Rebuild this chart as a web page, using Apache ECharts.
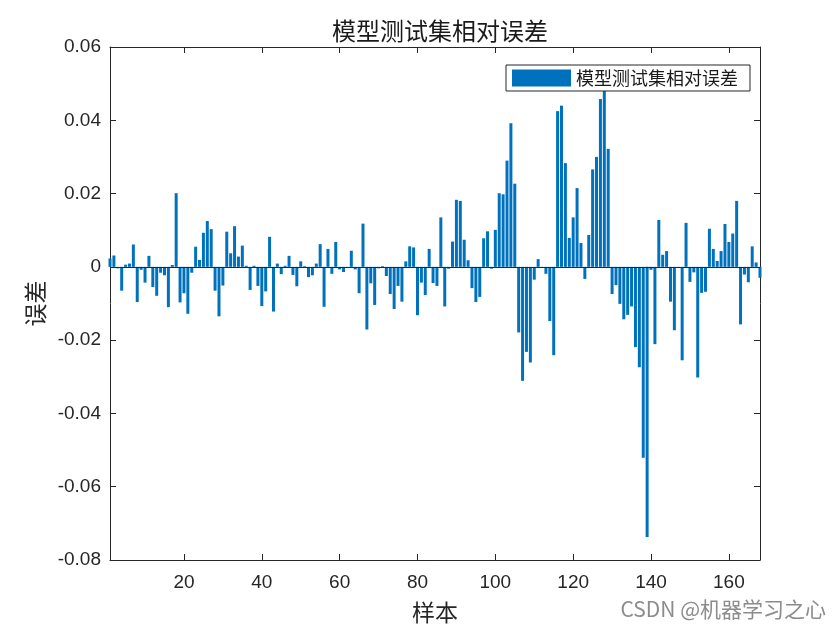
<!DOCTYPE html>
<html>
<head>
<meta charset="utf-8">
<script src="https://cdn.jsdelivr.net/npm/echarts@6/dist/echarts.min.js"></script>
<style>html,body{margin:0;padding:0;background:#fff;}#c{width:840px;height:630px;}</style>
</head>
<body>
<div id="c"></div>
<script>
// ---- data ----
const titleText = '模型测试集相对误差';
const seriesName = '模型测试集相对误差';
const xName = '样本';
const yName = '误差';
const errors = [
  0.0023, 0.0031, -0.0004, -0.0065, 0.0006, 0.0009, 0.0061, -0.0096, -0.0008, -0.0043,
  0.0030, -0.0055, -0.0079, -0.0016, -0.0023, -0.0110, 0.0005, 0.0201, -0.0097, -0.0072,
  -0.0128, -0.0016, 0.0055, 0.0019, 0.0093, 0.0125, 0.0103, -0.0065, -0.0135, -0.0051,
  0.0096, 0.0037, 0.0111, 0.0028, 0.0058, 0.0003, -0.0063, 0.0003, -0.0052, -0.0107,
  -0.0067, 0.0082, -0.0122, 0.0009, -0.0020, 0.0003, 0.0030, -0.0022, -0.0053, 0.0015,
  0.0002, -0.0028, -0.0023, 0.0009, 0.0062, -0.0109, 0.0049, -0.0019, 0.0068, -0.0007,
  -0.0014, -0.0002, 0.0044, -0.0007, -0.0072, 0.0118, -0.0171, -0.0045, -0.0104, -0.0004,
  0.0002, -0.0025, -0.0074, -0.0115, -0.0052, -0.0095, 0.0015, 0.0056, 0.0053, -0.0132,
  -0.0043, -0.0077, 0.0049, -0.0044, -0.0052, 0.0135, -0.0108, -0.0005, 0.0069, 0.0183,
  0.0180, 0.0074, 0.0018, -0.0058, -0.0096, -0.0082, 0.0078, 0.0097, -0.0005, 0.0101,
  0.0201, 0.0198, 0.0290, 0.0392, 0.0227, -0.0179, -0.0311, -0.0232, -0.0261, -0.0035,
  0.0021, -0.0003, -0.0019, -0.0148, -0.0241, 0.0425, 0.0440, 0.0283, 0.0079, 0.0135,
  0.0215, 0.0065, -0.0033, 0.0087, 0.0266, 0.0300, 0.0458, 0.0480, 0.0322, -0.0074,
  -0.0050, -0.0101, -0.0143, -0.0131, -0.0108, -0.0219, -0.0274, -0.0521, -0.0737, -0.0008,
  -0.0211, 0.0128, 0.0033, 0.0043, -0.0095, -0.0173, -0.0002, -0.0255, 0.0120, -0.0041,
  -0.0015, -0.0302, -0.0071, -0.0068, 0.0104, 0.0049, 0.0016, 0.0043, 0.0117, 0.0068,
  0.0091, 0.0180, -0.0157, -0.0021, -0.0042, 0.0056, 0.0012, -0.0030
];
const sampleIndex = errors.map((_, i) => i + 1);
const xTicks = [20, 40, 60, 80, 100, 120, 140, 160];
const yTicks = [-0.08, -0.06, -0.04, -0.02, 0, 0.02, 0.04, 0.06];
const watermark = 'CSDN @机器学习之心';

// ---- chart ----
const chart = echarts.init(document.getElementById('c'), null, {renderer: 'canvas'});
const axisColor = '#262626';
const numFont = '"Liberation Sans", Arial, sans-serif';
const cjkFont = '"Noto Sans CJK SC", sans-serif';
const barData = sampleIndex.map((x, i) => [x, errors[i]]);

const option = {
  backgroundColor: '#ffffff',
  animation: false,
  title: {
    text: titleText,
    left: 327,
    top: 14,
    textStyle: {fontFamily: cjkFont, fontSize: 24, fontWeight: 'normal', color: '#1a1a1a'}
  },
  legend: {
    data: [seriesName],
    left: 506,
    top: 65,
    orient: 'horizontal',
    icon: 'rect',
    itemWidth: 59,
    itemHeight: 17,
    padding: [4, 12, 4, 6],
    backgroundColor: '#ffffff',
    borderColor: '#262626',
    borderWidth: 1,
    borderRadius: 0,
    textStyle: {fontFamily: cjkFont, fontSize: 18, color: '#1a1a1a'}
  },
  grid: {left: 110, right: 80, top: 47, bottom: 70, containLabel: false},
  xAxis: [{
    type: 'value',
    min: 1,
    max: 168,
    name: xName,
    nameLocation: 'middle',
    nameGap: 41,
    nameTextStyle: {fontFamily: cjkFont, fontSize: 23, color: '#262626'},
    axisLine: {show: true, onZero: false, lineStyle: {color: axisColor, width: 1}},
    axisTick: {show: true, inside: true, length: 6, lineStyle: {color: axisColor},
      customValues: xTicks},
    axisLabel: {show: true, margin: 13, fontFamily: numFont, fontSize: 19, color: axisColor,
      customValues: xTicks,
      formatter: v => (v % 20 === 0 ? String(v) : '')},
    splitLine: {show: false}
  }, {
    type: 'value',
    position: 'top',
    min: 1,
    max: 168,
    axisLine: {show: true, onZero: false, lineStyle: {color: axisColor, width: 1}},
    axisTick: {show: true, inside: true, length: 6, lineStyle: {color: axisColor}, customValues: xTicks},
    axisLabel: {show: false},
    splitLine: {show: false}
  }],
  yAxis: [{
    type: 'value',
    min: -0.08,
    max: 0.06,
    interval: 0.02,
    name: yName,
    nameLocation: 'middle',
    nameGap: 63,
    nameRotate: 90,
    nameTextStyle: {fontFamily: cjkFont, fontSize: 23, color: '#262626'},
    axisLine: {show: true, onZero: false, lineStyle: {color: axisColor, width: 1}},
    axisTick: {show: true, inside: true, length: 6, lineStyle: {color: axisColor}},
    axisLabel: {show: true, margin: 9, fontFamily: numFont, fontSize: 19, color: axisColor,
      formatter: v => (Math.abs(v) < 1e-9 ? '0' : v.toFixed(2))},
    splitLine: {show: false}
  }, {
    type: 'value',
    position: 'right',
    min: -0.08,
    max: 0.06,
    interval: 0.02,
    axisLine: {show: true, onZero: false, lineStyle: {color: axisColor, width: 1}},
    axisTick: {show: true, inside: true, length: 6, lineStyle: {color: axisColor}},
    axisLabel: {show: false},
    splitLine: {show: false}
  }],
  series: [{
    name: seriesName,
    type: 'bar',
    xAxisIndex: 0,
    yAxisIndex: 0,
    data: barData,
    barWidth: 3,
    clip: true,
    itemStyle: {color: '#0072BD', borderWidth: 0},
    markLine: {
      silent: true,
      symbol: ['none', 'none'],
      label: {show: false},
      lineStyle: {color: '#262626', width: 1, type: 'solid'},
      data: [{yAxis: 0}]
    }
  }],
  graphic: [{
    type: 'text',
    right: 14,
    bottom: 10,
    style: {text: watermark, fontFamily: cjkFont, fontSize: 21, fill: '#8c8c8c'}
  }]
};
chart.setOption(option);
</script>
</body>
</html>
